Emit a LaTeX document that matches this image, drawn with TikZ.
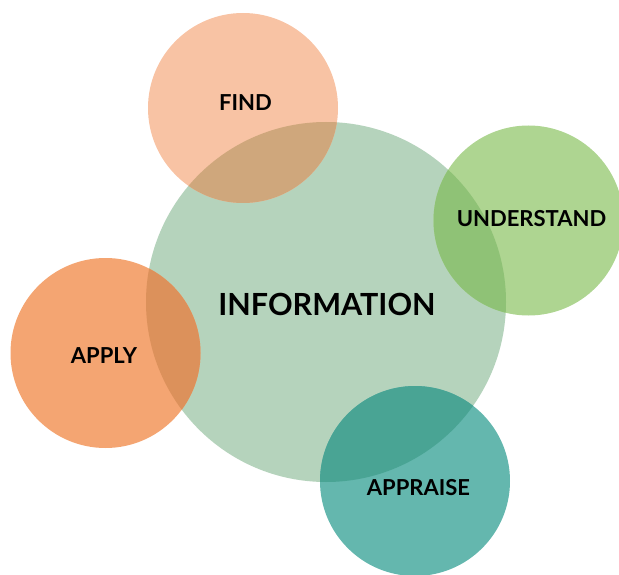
\documentclass[tikz,border=0pt]{standalone}
\usepackage{fontspec}
\setmainfont{Lato}
\definecolor{cBig}{HTML}{B5D3BC}
\definecolor{cFind}{HTML}{F8C3A4}
\definecolor{cFindO}{HTML}{CFA77C}
\definecolor{cUnd}{HTML}{AED591}
\definecolor{cUndO}{HTML}{8FC276}
\definecolor{cApply}{HTML}{F4A572}
\definecolor{cApplyO}{HTML}{DC915B}
\definecolor{cAppr}{HTML}{64B7AE}
\definecolor{cApprO}{HTML}{49A494}
\begin{document}
\begin{tikzpicture}[x=1pt,y=-1pt,
  disc/.style={circle, inner sep=0pt, minimum size=190pt, draw=none},
  lbl/.style={font=\bfseries\fontsize{22}{22}\selectfont, text=black, inner sep=0pt}]
\clip (0,0) rectangle (619,575);
\node[disc, minimum size=360pt, fill=cBig] (info) at (326,302) {};
\node[disc, fill=cFind] (find) at (243,108) {};
\node[disc, fill=cUnd] (und) at (528.5,220.5) {};
\node[disc, fill=cApply] (apply) at (105.5,353) {};
\node[disc, fill=cAppr] (appr) at (415,481) {};
\begin{scope}
  \clip (info.center) circle (180pt);
  \fill[cFindO] (find.center) circle (95pt);
  \fill[cUndO] (und.center) circle (95pt);
  \fill[cApplyO] (apply.center) circle (95pt);
  \fill[cApprO] (appr.center) circle (95pt);
\end{scope}
\node[lbl, font=\bfseries\fontsize{30.5}{30.5}\selectfont] (tinfo) at (327,304) {INFORMATION};
\node[lbl] (tfind) at (245.5,103) {FIND};
\node[lbl] (tund) at (531.5,218.5) {UNDERSTAND};
\node[lbl] (tapply) at (104,355.5) {APPLY};
\node[lbl] (tappr) at (418.5,487.5) {APPRAISE};
\end{tikzpicture}
\end{document}
